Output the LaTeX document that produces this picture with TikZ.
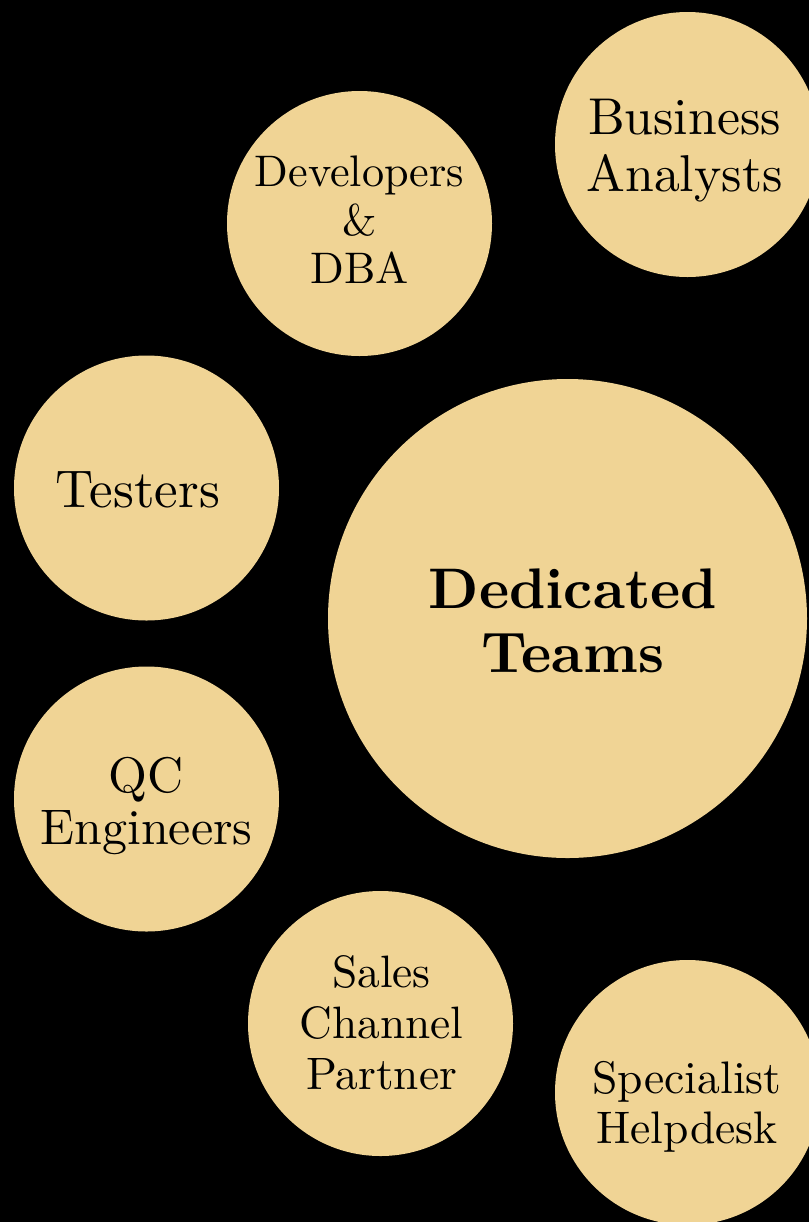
\documentclass[tikz,border=0pt]{standalone}
\usepackage{fontspec}
\setmainfont[BoldFont=lmroman10-bold.otf]{lmroman10-regular.otf}
\usepackage{xcolor}
\usepackage{tikz}

\definecolor{sabbia}{RGB}{240,212,149}
\tikzset{
  testo/.style={align=center, inner sep=0pt, text=black},
  grande/.style={testo, font=\fontsize{25.9}{28.5}\selectfont},
  piccolo/.style={testo, font=\fontsize{22.7}{25.5}\selectfont}
}

\begin{document}
\begin{tikzpicture}[x=0.5pt, y=-0.5pt]

% Sfondo
\clip (0,0) rectangle (809,1222);
\fill[black] (0,0) rectangle (809,1222);

% Disegno dei cerchi
\fill[sabbia] (687.5,144.5) circle (66.25pt);
\fill[sabbia] (359.5,223.5) circle (66.25pt);
\fill[sabbia] (146.5,488) circle (66.25pt);
\fill[sabbia] (567.5,618.5) circle (119.75pt);
\fill[sabbia] (146.5,799) circle (66.25pt);
\fill[sabbia] (380.5,1023.5) circle (66.25pt);
\fill[sabbia] (687.5,1092.5) circle (66.25pt);

% Etichette dei cerchi
\node[grande] (analisti) at (684.5,150.5) {Business\\Analysts};
\node[piccolo, font=\fontsize{22.1}{24.3}\selectfont] (sviluppo) at (359.5,220) {Developers\\\&\\DBA};
\node[grande, font=\fontsize{26.5}{28.5}\selectfont] (tester) at (138,490) {Testers};
\node[testo, font=\fontsize{28.6}{32}\selectfont\bfseries] (team) at (573,620.5) {Dedicated\\Teams};
\node[grande, font=\fontsize{25}{26}\selectfont] (qualita) at (146.5,806.5) {QC\\Engineers};
\node[piccolo] (vendite) at (381.5,1023) {Sales\\Channel\\Partner};
\node[piccolo, font=\fontsize{22.8}{25}\selectfont] (helpdesk) at (687,1107) {Specialist\\Helpdesk};

\end{tikzpicture}
\end{document}
